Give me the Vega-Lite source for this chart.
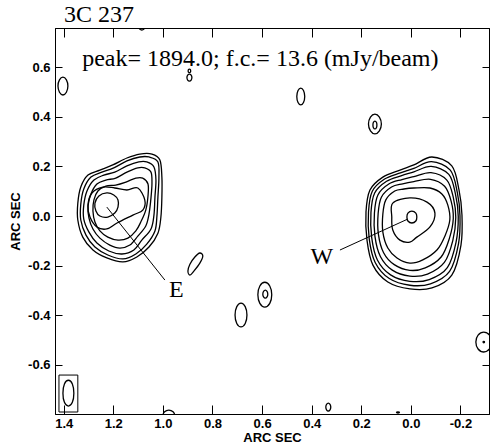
{
  "$schema": "https://vega.github.io/schema/vega-lite/v6.json",
  "width": 434,
  "height": 386,
  "autosize": {"type": "none"},
  "padding": {"left": 55, "top": 28, "right": 1, "bottom": 32},
  "background": "white",
  "config": {"view": {"stroke": "black", "strokeWidth": 1}, "axis": {"grid": false}},
  "datasets": {
    "contours": [
      {"g":"E1","o":0,"x":1.093,"y":0.25},{"g":"E1","o":1,"x":1.044,"y":0.25},{"g":"E1","o":2,"x":1.012,"y":0.226},{"g":"E1","o":3,"x":1.004,"y":0.157},{"g":"E1","o":4,"x":1.004,"y":0.077},{"g":"E1","o":5,"x":1.008,"y":-0.004},{"g":"E1","o":6,"x":1.02,"y":-0.069},{"g":"E1","o":7,"x":1.056,"y":-0.125},{"g":"E1","o":8,"x":1.105,"y":-0.165},{"g":"E1","o":9,"x":1.161,"y":-0.185},{"g":"E1","o":10,"x":1.226,"y":-0.169},{"g":"E1","o":11,"x":1.282,"y":-0.137},{"g":"E1","o":12,"x":1.323,"y":-0.085},{"g":"E1","o":13,"x":1.343,"y":-0.016},{"g":"E1","o":14,"x":1.343,"y":0.052},{"g":"E1","o":15,"x":1.331,"y":0.117},{"g":"E1","o":16,"x":1.302,"y":0.165},{"g":"E1","o":17,"x":1.254,"y":0.185},{"g":"E1","o":18,"x":1.202,"y":0.206},{"g":"E1","o":19,"x":1.145,"y":0.234},
      {"g":"E2","o":0,"x":1.093,"y":0.238},{"g":"E2","o":1,"x":1.056,"y":0.238},{"g":"E2","o":2,"x":1.02,"y":0.218},{"g":"E2","o":3,"x":1.016,"y":0.153},{"g":"E2","o":4,"x":1.02,"y":0.077},{"g":"E2","o":5,"x":1.024,"y":0},{"g":"E2","o":6,"x":1.032,"y":-0.06},{"g":"E2","o":7,"x":1.065,"y":-0.113},{"g":"E2","o":8,"x":1.109,"y":-0.153},{"g":"E2","o":9,"x":1.161,"y":-0.173},{"g":"E2","o":10,"x":1.222,"y":-0.157},{"g":"E2","o":11,"x":1.274,"y":-0.125},{"g":"E2","o":12,"x":1.31,"y":-0.077},{"g":"E2","o":13,"x":1.331,"y":-0.016},{"g":"E2","o":14,"x":1.331,"y":0.048},{"g":"E2","o":15,"x":1.319,"y":0.109},{"g":"E2","o":16,"x":1.29,"y":0.157},{"g":"E2","o":17,"x":1.246,"y":0.177},{"g":"E2","o":18,"x":1.198,"y":0.194},{"g":"E2","o":19,"x":1.145,"y":0.222},
      {"g":"E3","o":0,"x":1.097,"y":0.218},{"g":"E3","o":1,"x":1.065,"y":0.218},{"g":"E3","o":2,"x":1.036,"y":0.198},{"g":"E3","o":3,"x":1.028,"y":0.145},{"g":"E3","o":4,"x":1.032,"y":0.077},{"g":"E3","o":5,"x":1.036,"y":0.004},{"g":"E3","o":6,"x":1.048,"y":-0.052},{"g":"E3","o":7,"x":1.085,"y":-0.097},{"g":"E3","o":8,"x":1.117,"y":-0.137},{"g":"E3","o":9,"x":1.165,"y":-0.153},{"g":"E3","o":10,"x":1.218,"y":-0.141},{"g":"E3","o":11,"x":1.266,"y":-0.109},{"g":"E3","o":12,"x":1.298,"y":-0.065},{"g":"E3","o":13,"x":1.319,"y":-0.012},{"g":"E3","o":14,"x":1.319,"y":0.044},{"g":"E3","o":15,"x":1.306,"y":0.101},{"g":"E3","o":16,"x":1.278,"y":0.145},{"g":"E3","o":17,"x":1.238,"y":0.165},{"g":"E3","o":18,"x":1.194,"y":0.177},{"g":"E3","o":19,"x":1.145,"y":0.202},
      {"g":"E4","o":0,"x":1.101,"y":0.194},{"g":"E4","o":1,"x":1.073,"y":0.194},{"g":"E4","o":2,"x":1.048,"y":0.177},{"g":"E4","o":3,"x":1.044,"y":0.133},{"g":"E4","o":4,"x":1.048,"y":0.073},{"g":"E4","o":5,"x":1.056,"y":0.008},{"g":"E4","o":6,"x":1.069,"y":-0.04},{"g":"E4","o":7,"x":1.101,"y":-0.081},{"g":"E4","o":8,"x":1.133,"y":-0.117},{"g":"E4","o":9,"x":1.173,"y":-0.129},{"g":"E4","o":10,"x":1.214,"y":-0.117},{"g":"E4","o":11,"x":1.254,"y":-0.089},{"g":"E4","o":12,"x":1.282,"y":-0.052},{"g":"E4","o":13,"x":1.298,"y":-0.008},{"g":"E4","o":14,"x":1.302,"y":0.04},{"g":"E4","o":15,"x":1.29,"y":0.089},{"g":"E4","o":16,"x":1.266,"y":0.129},{"g":"E4","o":17,"x":1.23,"y":0.145},{"g":"E4","o":18,"x":1.19,"y":0.153},{"g":"E4","o":19,"x":1.145,"y":0.177},
      {"g":"E5","o":0,"x":1.109,"y":0.153},{"g":"E5","o":1,"x":1.081,"y":0.153},{"g":"E5","o":2,"x":1.06,"y":0.129},{"g":"E5","o":3,"x":1.06,"y":0.081},{"g":"E5","o":4,"x":1.069,"y":0.024},{"g":"E5","o":5,"x":1.089,"y":-0.024},{"g":"E5","o":6,"x":1.109,"y":-0.06},{"g":"E5","o":7,"x":1.141,"y":-0.089},{"g":"E5","o":8,"x":1.181,"y":-0.097},{"g":"E5","o":9,"x":1.222,"y":-0.085},{"g":"E5","o":10,"x":1.254,"y":-0.06},{"g":"E5","o":11,"x":1.274,"y":-0.024},{"g":"E5","o":12,"x":1.282,"y":0.02},{"g":"E5","o":13,"x":1.278,"y":0.065},{"g":"E5","o":14,"x":1.262,"y":0.101},{"g":"E5","o":15,"x":1.23,"y":0.121},{"g":"E5","o":16,"x":1.19,"y":0.125},{"g":"E5","o":17,"x":1.149,"y":0.137},
      {"g":"E6","o":0,"x":1.286,"y":0.093},{"g":"E6","o":1,"x":1.242,"y":0.117},{"g":"E6","o":2,"x":1.194,"y":0.113},{"g":"E6","o":3,"x":1.145,"y":0.105},{"g":"E6","o":4,"x":1.101,"y":0.113},{"g":"E6","o":5,"x":1.073,"y":0.065},{"g":"E6","o":6,"x":1.081,"y":0.024},{"g":"E6","o":7,"x":1.121,"y":0.004},{"g":"E6","o":8,"x":1.185,"y":-0.028},{"g":"E6","o":9,"x":1.226,"y":-0.052},{"g":"E6","o":10,"x":1.266,"y":-0.044},{"g":"E6","o":11,"x":1.294,"y":-0.004},{"g":"E6","o":12,"x":1.302,"y":0.044},
      {"g":"E7","o":0,"x":1.226,"y":0.093},{"g":"E7","o":1,"x":1.198,"y":0.085},{"g":"E7","o":2,"x":1.181,"y":0.065},{"g":"E7","o":3,"x":1.181,"y":0.036},{"g":"E7","o":4,"x":1.194,"y":0.012},{"g":"E7","o":5,"x":1.222,"y":-0.004},{"g":"E7","o":6,"x":1.254,"y":0},{"g":"E7","o":7,"x":1.27,"y":0.02},{"g":"E7","o":8,"x":1.274,"y":0.052},{"g":"E7","o":9,"x":1.258,"y":0.081},
      {"g":"W1","o":0,"x":-0.012,"y":0.206},{"g":"W1","o":1,"x":-0.085,"y":0.238},{"g":"W1","o":2,"x":-0.165,"y":0.202},{"g":"W1","o":3,"x":-0.194,"y":0.105},{"g":"W1","o":4,"x":-0.206,"y":0.004},{"g":"W1","o":5,"x":-0.202,"y":-0.117},{"g":"W1","o":6,"x":-0.165,"y":-0.238},{"g":"W1","o":7,"x":-0.085,"y":-0.29},{"g":"W1","o":8,"x":0.004,"y":-0.294},{"g":"W1","o":9,"x":0.093,"y":-0.266},{"g":"W1","o":10,"x":0.153,"y":-0.198},{"g":"W1","o":11,"x":0.177,"y":-0.097},{"g":"W1","o":12,"x":0.181,"y":0.016},{"g":"W1","o":13,"x":0.165,"y":0.105},{"g":"W1","o":14,"x":0.113,"y":0.157},{"g":"W1","o":15,"x":0.044,"y":0.185},
      {"g":"W2","o":0,"x":-0.012,"y":0.192},{"g":"W2","o":1,"x":-0.083,"y":0.219},{"g":"W2","o":2,"x":-0.159,"y":0.185},{"g":"W2","o":3,"x":-0.187,"y":0.096},{"g":"W2","o":4,"x":-0.198,"y":0.001},{"g":"W2","o":5,"x":-0.192,"y":-0.112},{"g":"W2","o":6,"x":-0.156,"y":-0.223},{"g":"W2","o":7,"x":-0.079,"y":-0.273},{"g":"W2","o":8,"x":0.004,"y":-0.279},{"g":"W2","o":9,"x":0.087,"y":-0.252},{"g":"W2","o":10,"x":0.144,"y":-0.187},{"g":"W2","o":11,"x":0.168,"y":-0.092},{"g":"W2","o":12,"x":0.171,"y":0.015},{"g":"W2","o":13,"x":0.156,"y":0.099},{"g":"W2","o":14,"x":0.106,"y":0.149},{"g":"W2","o":15,"x":0.042,"y":0.174},
      {"g":"W3","o":0,"x":-0.012,"y":0.178},{"g":"W3","o":1,"x":-0.082,"y":0.2},{"g":"W3","o":2,"x":-0.153,"y":0.168},{"g":"W3","o":3,"x":-0.18,"y":0.087},{"g":"W3","o":4,"x":-0.191,"y":-0.002},{"g":"W3","o":5,"x":-0.182,"y":-0.106},{"g":"W3","o":6,"x":-0.147,"y":-0.208},{"g":"W3","o":7,"x":-0.074,"y":-0.256},{"g":"W3","o":8,"x":0.004,"y":-0.263},{"g":"W3","o":9,"x":0.082,"y":-0.237},{"g":"W3","o":10,"x":0.135,"y":-0.177},{"g":"W3","o":11,"x":0.158,"y":-0.087},{"g":"W3","o":12,"x":0.161,"y":0.014},{"g":"W3","o":13,"x":0.146,"y":0.093},{"g":"W3","o":14,"x":0.098,"y":0.14},{"g":"W3","o":15,"x":0.04,"y":0.162},
      {"g":"W4","o":0,"x":-0.012,"y":0.159},{"g":"W4","o":1,"x":-0.081,"y":0.175},{"g":"W4","o":2,"x":-0.145,"y":0.145},{"g":"W4","o":3,"x":-0.171,"y":0.075},{"g":"W4","o":4,"x":-0.181,"y":-0.006},{"g":"W4","o":5,"x":-0.169,"y":-0.099},{"g":"W4","o":6,"x":-0.135,"y":-0.187},{"g":"W4","o":7,"x":-0.067,"y":-0.234},{"g":"W4","o":8,"x":0.004,"y":-0.242},{"g":"W4","o":9,"x":0.075,"y":-0.218},{"g":"W4","o":10,"x":0.123,"y":-0.163},{"g":"W4","o":11,"x":0.145,"y":-0.081},{"g":"W4","o":12,"x":0.147,"y":0.012},{"g":"W4","o":13,"x":0.133,"y":0.085},{"g":"W4","o":14,"x":0.089,"y":0.129},{"g":"W4","o":15,"x":0.036,"y":0.147},
      {"g":"W5","o":0,"x":-0.012,"y":0.139},{"g":"W5","o":1,"x":-0.079,"y":0.148},{"g":"W5","o":2,"x":-0.136,"y":0.12},{"g":"W5","o":3,"x":-0.162,"y":0.061},{"g":"W5","o":4,"x":-0.171,"y":-0.01},{"g":"W5","o":5,"x":-0.155,"y":-0.091},{"g":"W5","o":6,"x":-0.122,"y":-0.165},{"g":"W5","o":7,"x":-0.058,"y":-0.209},{"g":"W5","o":8,"x":0.004,"y":-0.219},{"g":"W5","o":9,"x":0.067,"y":-0.196},{"g":"W5","o":10,"x":0.11,"y":-0.148},{"g":"W5","o":11,"x":0.131,"y":-0.073},{"g":"W5","o":12,"x":0.132,"y":0.01},{"g":"W5","o":13,"x":0.119,"y":0.076},{"g":"W5","o":14,"x":0.078,"y":0.117},{"g":"W5","o":15,"x":0.033,"y":0.13},
      {"g":"W6","o":0,"x":-0.012,"y":0.113},{"g":"W6","o":1,"x":-0.077,"y":0.113},{"g":"W6","o":2,"x":-0.125,"y":0.089},{"g":"W6","o":3,"x":-0.149,"y":0.044},{"g":"W6","o":4,"x":-0.157,"y":-0.016},{"g":"W6","o":5,"x":-0.137,"y":-0.081},{"g":"W6","o":6,"x":-0.105,"y":-0.137},{"g":"W6","o":7,"x":-0.048,"y":-0.177},{"g":"W6","o":8,"x":0.004,"y":-0.19},{"g":"W6","o":9,"x":0.056,"y":-0.169},{"g":"W6","o":10,"x":0.093,"y":-0.129},{"g":"W6","o":11,"x":0.113,"y":-0.065},{"g":"W6","o":12,"x":0.113,"y":0.008},{"g":"W6","o":13,"x":0.101,"y":0.065},{"g":"W6","o":14,"x":0.065,"y":0.101},{"g":"W6","o":15,"x":0.028,"y":0.109},
      {"g":"W7","o":0,"x":0.073,"y":0.052},{"g":"W7","o":1,"x":0.004,"y":0.073},{"g":"W7","o":2,"x":-0.065,"y":0.056},{"g":"W7","o":3,"x":-0.097,"y":0.012},{"g":"W7","o":4,"x":-0.077,"y":-0.044},{"g":"W7","o":5,"x":-0.024,"y":-0.085},{"g":"W7","o":6,"x":0.004,"y":-0.105},{"g":"W7","o":7,"x":0.044,"y":-0.097},{"g":"W7","o":8,"x":0.073,"y":-0.056},{"g":"W7","o":9,"x":0.077,"y":-0.004},
      {"g":"W8","o":0,"x":-0.004,"y":0.02},{"g":"W8","o":1,"x":-0.02,"y":0.012},{"g":"W8","o":2,"x":-0.024,"y":-0.004},{"g":"W8","o":3,"x":-0.02,"y":-0.02},{"g":"W8","o":4,"x":-0.004,"y":-0.028},{"g":"W8","o":5,"x":0.012,"y":-0.02},{"g":"W8","o":6,"x":0.016,"y":-0.004},{"g":"W8","o":7,"x":0.012,"y":0.012},
      {"g":"N1","o":0,"x":1.403,"y":0.56},{"g":"N1","o":1,"x":1.417,"y":0.549},{"g":"N1","o":2,"x":1.423,"y":0.524},{"g":"N1","o":3,"x":1.417,"y":0.499},{"g":"N1","o":4,"x":1.403,"y":0.488},{"g":"N1","o":5,"x":1.389,"y":0.499},{"g":"N1","o":6,"x":1.383,"y":0.524},{"g":"N1","o":7,"x":1.389,"y":0.549},
      {"g":"N2","o":0,"x":0.893,"y":0.572},{"g":"N2","o":1,"x":0.9,"y":0.568},{"g":"N2","o":2,"x":0.903,"y":0.558},{"g":"N2","o":3,"x":0.9,"y":0.548},{"g":"N2","o":4,"x":0.893,"y":0.544},{"g":"N2","o":5,"x":0.886,"y":0.548},{"g":"N2","o":6,"x":0.883,"y":0.558},{"g":"N2","o":7,"x":0.886,"y":0.568},
      {"g":"N2b","o":0,"x":0.893,"y":0.592},{"g":"N2b","o":1,"x":0.897,"y":0.59},{"g":"N2b","o":2,"x":0.898,"y":0.585},{"g":"N2b","o":3,"x":0.897,"y":0.58},{"g":"N2b","o":4,"x":0.893,"y":0.578},{"g":"N2b","o":5,"x":0.889,"y":0.58},{"g":"N2b","o":6,"x":0.888,"y":0.585},{"g":"N2b","o":7,"x":0.889,"y":0.59},
      {"g":"N3","o":0,"x":1.085,"y":0.774},{"g":"N3","o":1,"x":1.0935,"y":0.7705},{"g":"N3","o":2,"x":1.097,"y":0.762},{"g":"N3","o":3,"x":1.0935,"y":0.7535},{"g":"N3","o":4,"x":1.085,"y":0.75},{"g":"N3","o":5,"x":1.0765,"y":0.7535},{"g":"N3","o":6,"x":1.073,"y":0.762},{"g":"N3","o":7,"x":1.0765,"y":0.7705},
      {"g":"N4","o":0,"x":0.444,"y":0.516},{"g":"N4","o":1,"x":0.455,"y":0.506},{"g":"N4","o":2,"x":0.46,"y":0.482},{"g":"N4","o":3,"x":0.455,"y":0.458},{"g":"N4","o":4,"x":0.444,"y":0.448},{"g":"N4","o":5,"x":0.433,"y":0.458},{"g":"N4","o":6,"x":0.428,"y":0.482},{"g":"N4","o":7,"x":0.433,"y":0.506},
      {"g":"N5","o":0,"x":0.145,"y":0.411},{"g":"N5","o":1,"x":0.163,"y":0.399},{"g":"N5","o":2,"x":0.171,"y":0.371},{"g":"N5","o":3,"x":0.163,"y":0.343},{"g":"N5","o":4,"x":0.145,"y":0.331},{"g":"N5","o":5,"x":0.127,"y":0.343},{"g":"N5","o":6,"x":0.119,"y":0.371},{"g":"N5","o":7,"x":0.127,"y":0.399},
      {"g":"N5i","o":0,"x":0.145,"y":0.383},{"g":"N5i","o":1,"x":0.151,"y":0.378},{"g":"N5i","o":2,"x":0.153,"y":0.367},{"g":"N5i","o":3,"x":0.151,"y":0.356},{"g":"N5i","o":4,"x":0.145,"y":0.351},{"g":"N5i","o":5,"x":0.139,"y":0.356},{"g":"N5i","o":6,"x":0.137,"y":0.367},{"g":"N5i","o":7,"x":0.139,"y":0.378},
      {"g":"N6","o":0,"x":0.851,"y":-0.149},{"g":"N6","o":1,"x":0.839,"y":-0.161},{"g":"N6","o":2,"x":0.851,"y":-0.19},{"g":"N6","o":3,"x":0.875,"y":-0.222},{"g":"N6","o":4,"x":0.891,"y":-0.238},{"g":"N6","o":5,"x":0.899,"y":-0.222},{"g":"N6","o":6,"x":0.891,"y":-0.194},{"g":"N6","o":7,"x":0.871,"y":-0.165},
      {"g":"N7","o":0,"x":0.685,"y":-0.351},{"g":"N7","o":1,"x":0.702,"y":-0.365},{"g":"N7","o":2,"x":0.709,"y":-0.399},{"g":"N7","o":3,"x":0.702,"y":-0.433},{"g":"N7","o":4,"x":0.685,"y":-0.447},{"g":"N7","o":5,"x":0.668,"y":-0.433},{"g":"N7","o":6,"x":0.661,"y":-0.399},{"g":"N7","o":7,"x":0.668,"y":-0.365},
      {"g":"N8","o":0,"x":0.589,"y":-0.267},{"g":"N8","o":1,"x":0.609,"y":-0.282},{"g":"N8","o":2,"x":0.617,"y":-0.317},{"g":"N8","o":3,"x":0.609,"y":-0.352},{"g":"N8","o":4,"x":0.589,"y":-0.367},{"g":"N8","o":5,"x":0.569,"y":-0.352},{"g":"N8","o":6,"x":0.561,"y":-0.317},{"g":"N8","o":7,"x":0.569,"y":-0.282},
      {"g":"N8i","o":0,"x":0.587,"y":-0.299},{"g":"N8i","o":1,"x":0.594,"y":-0.304},{"g":"N8i","o":2,"x":0.597,"y":-0.315},{"g":"N8i","o":3,"x":0.594,"y":-0.326},{"g":"N8i","o":4,"x":0.587,"y":-0.331},{"g":"N8i","o":5,"x":0.58,"y":-0.326},{"g":"N8i","o":6,"x":0.577,"y":-0.315},{"g":"N8i","o":7,"x":0.58,"y":-0.304},
      {"g":"N9","o":0,"x":-0.294,"y":-0.468},{"g":"N9","o":1,"x":-0.271,"y":-0.48},{"g":"N9","o":2,"x":-0.262,"y":-0.508},{"g":"N9","o":3,"x":-0.271,"y":-0.536},{"g":"N9","o":4,"x":-0.294,"y":-0.548},{"g":"N9","o":5,"x":-0.317,"y":-0.536},{"g":"N9","o":6,"x":-0.326,"y":-0.508},{"g":"N9","o":7,"x":-0.317,"y":-0.48},
      {"g":"N9d","o":0,"x":-0.294,"y":-0.505},{"g":"N9d","o":1,"x":-0.291,"y":-0.508},{"g":"N9d","o":2,"x":-0.294,"y":-0.511},{"g":"N9d","o":3,"x":-0.297,"y":-0.508},
      {"g":"N10","o":0,"x":0.333,"y":-0.754},{"g":"N10","o":1,"x":0.34,"y":-0.759},{"g":"N10","o":2,"x":0.343,"y":-0.77},{"g":"N10","o":3,"x":0.34,"y":-0.781},{"g":"N10","o":4,"x":0.333,"y":-0.786},{"g":"N10","o":5,"x":0.326,"y":-0.781},{"g":"N10","o":6,"x":0.323,"y":-0.77},{"g":"N10","o":7,"x":0.326,"y":-0.759},
      {"g":"N11","o":0,"x":0.976,"y":-0.782},{"g":"N11","o":1,"x":0.993,"y":-0.789},{"g":"N11","o":2,"x":1.0,"y":-0.806},{"g":"N11","o":3,"x":0.993,"y":-0.823},{"g":"N11","o":4,"x":0.976,"y":-0.83},{"g":"N11","o":5,"x":0.959,"y":-0.823},{"g":"N11","o":6,"x":0.952,"y":-0.806},{"g":"N11","o":7,"x":0.959,"y":-0.789},
      {"g":"N12","o":0,"x":0.058,"y":-0.792},{"g":"N12","o":1,"x":0.052,"y":-0.79},{"g":"N12","o":2,"x":0.046,"y":-0.792},{"g":"N12","o":3,"x":0.052,"y":-0.794},
      {"g":"B","o":0,"x":1.381,"y":-0.662},{"g":"B","o":1,"x":1.397,"y":-0.677},{"g":"B","o":2,"x":1.403,"y":-0.714},{"g":"B","o":3,"x":1.397,"y":-0.751},{"g":"B","o":4,"x":1.381,"y":-0.766},{"g":"B","o":5,"x":1.365,"y":-0.751},{"g":"B","o":6,"x":1.359,"y":-0.714},{"g":"B","o":7,"x":1.365,"y":-0.677}
    ]
  },
  "layer": [
    {
      "data": {"name": "contours"},
      "mark": {"type": "line", "interpolate": "cardinal-closed", "clip": true, "color": "black", "strokeWidth": 1.3},
      "encoding": {
        "x": {"field": "x", "type": "quantitative", "scale": {"domain": [-0.315, 1.435], "reverse": true, "nice": false, "zero": false},
          "axis": {"orient": "bottom", "values": [1.4, 1.2, 1.0, 0.8, 0.6, 0.4, 0.2, 0.0, -0.2], "labelExpr": "(datum.value < 0 ? '-' : '') + format(abs(datum.value), '.1f')", "tickSize": -9, "labelPadding": 12, "labelFont": "Liberation Sans", "labelFontWeight": "bold", "labelFontSize": 13, "labelColor": "black", "tickColor": "black", "domainColor": "black", "title": "ARC SEC", "titleFont": "Liberation Sans", "titleFontWeight": "bold", "titleFontSize": 13, "titleColor": "black", "titlePadding": 1, "labelFlush": false, "labelOverlap": false}},
        "y": {"field": "y", "type": "quantitative", "scale": {"domain": [-0.798, 0.758], "nice": false, "zero": false},
          "axis": {"orient": "left", "values": [-0.6, -0.4, -0.2, 0.0, 0.2, 0.4, 0.6], "labelExpr": "(datum.value < 0 ? '-' : '') + format(abs(datum.value), '.1f')", "tickSize": -7, "labelPadding": 12, "labelFont": "Liberation Sans", "labelFontWeight": "bold", "labelFontSize": 13, "labelColor": "black", "tickColor": "black", "domainColor": "black", "title": "ARC SEC", "titleFont": "Liberation Sans", "titleFontWeight": "bold", "titleFontSize": 13, "titleColor": "black", "titlePadding": 5, "labelFlush": false, "labelOverlap": false}},
        "detail": {"field": "g", "type": "nominal"},
        "order": {"field": "o", "type": "quantitative"}
      }
    },
    {
      "data": {"values": [{"x1": 1.419, "x2": 1.343, "y1": -0.641, "y2": -0.79}]},
      "mark": {"type": "rect", "fill": null, "fillOpacity": 0, "stroke": "black", "strokeWidth": 1},
      "encoding": {
        "x": {"field": "x1", "type": "quantitative", "axis": {"orient": "top", "values": [1.4, 1.2, 1.0, 0.8, 0.6, 0.4, 0.2, 0.0, -0.2], "labels": false, "tickSize": -9, "tickColor": "black", "domainColor": "black", "title": null}},
        "x2": {"field": "x2"},
        "y": {"field": "y1", "type": "quantitative", "axis": {"orient": "right", "values": [-0.6, -0.4, -0.2, 0.0, 0.2, 0.4, 0.6], "labels": false, "tickSize": -7, "tickColor": "black", "domainColor": "black", "title": null}},
        "y2": {"field": "y2"}
      }
    },
    {
      "data": {"values": [{"x": 1.226, "y": 0.036, "x2": 0.992, "y2": -0.258}, {"x": 0.286, "y": -0.137, "x2": 0.012, "y2": -0.012}]},
      "mark": {"type": "rule", "color": "black", "strokeWidth": 1},
      "encoding": {
        "x": {"field": "x", "type": "quantitative", "axis": null},
        "y": {"field": "y", "type": "quantitative", "axis": null},
        "x2": {"field": "x2"},
        "y2": {"field": "y2"}
      }
    },
    {
      "data": {"values": [{"t": "E", "x": 0.946, "y": -0.327}, {"t": "W", "x": 0.359, "y": -0.194}, {"t": "peak= 1894.0; f.c.= 13.6 (mJy/beam)", "x": 0.607, "y": 0.605}]},
      "mark": {"type": "text", "font": "Liberation Serif", "fontSize": 24, "color": "black", "align": "center", "baseline": "alphabetic"},
      "encoding": {
        "x": {"field": "x", "type": "quantitative", "axis": null},
        "y": {"field": "y", "type": "quantitative", "axis": null},
        "text": {"field": "t"}
      }
    },
    {
      "data": {"values": [{"t": "3C 237", "x": 1.399, "y": 0.782}]},
      "mark": {"type": "text", "font": "Liberation Serif", "fontSize": 24, "color": "black", "align": "left", "baseline": "alphabetic"},
      "encoding": {
        "x": {"field": "x", "type": "quantitative", "axis": null},
        "y": {"field": "y", "type": "quantitative", "axis": null},
        "text": {"field": "t"}
      }
    }
  ],
  "resolve": {"axis": {"x": "independent", "y": "independent"}}
}
